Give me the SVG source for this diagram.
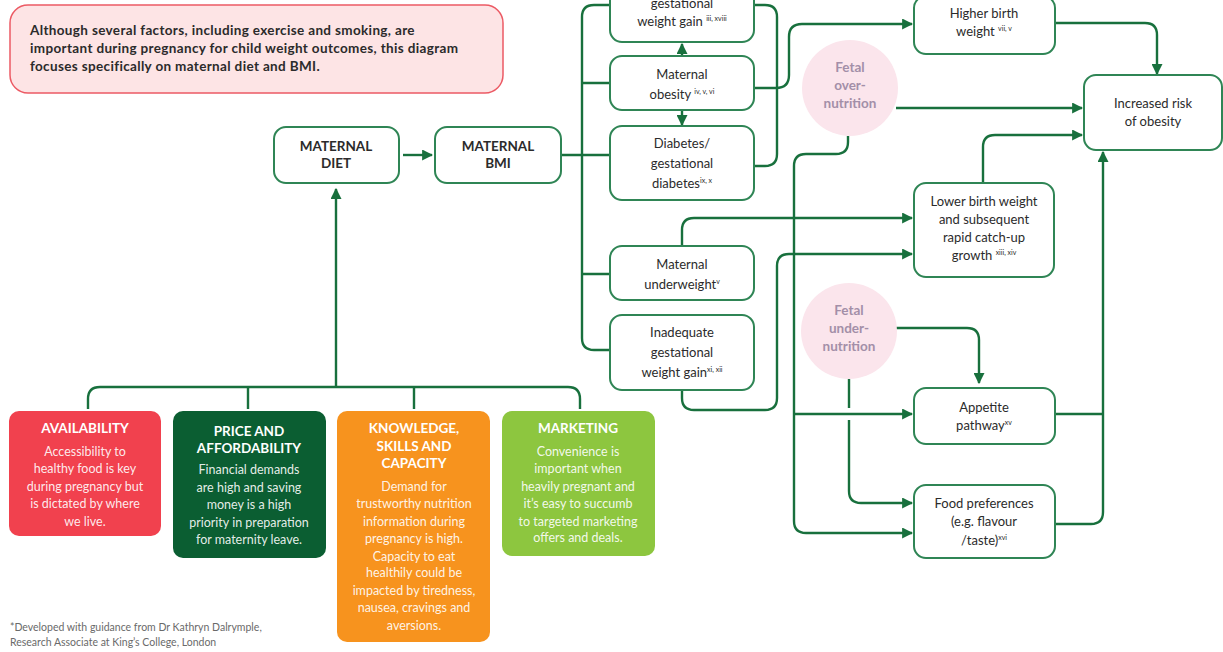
<svg xmlns="http://www.w3.org/2000/svg" width="1223" height="652" viewBox="0 0 1223 652">
<style>
.box{fill:#fff;stroke:#2f8555;stroke-width:2}
.c{fill:none;stroke:#18703d;stroke-width:2.4}
.t{font-family:Lato,"Liberation Sans",sans-serif;font-size:13px;fill:#2b2b2b;text-anchor:middle}
.h{font-family:Lato,"Liberation Sans",sans-serif;font-size:13.5px;font-weight:bold;fill:#2b2b2b;text-anchor:middle}
.s{font-size:7px}
.circ{fill:#fbe5ec}
.ct{font-family:Lato,"Liberation Sans",sans-serif;font-size:13.5px;font-weight:bold;fill:#a38fa8;text-anchor:middle}
.bt{font-family:Lato,"Liberation Sans",sans-serif;font-size:13.5px;font-weight:bold;fill:#fff;text-anchor:middle}
.bb{font-family:Lato,"Liberation Sans",sans-serif;font-size:12.5px;fill:#fff;fill-opacity:0.9;text-anchor:middle}
</style>
<defs>
<marker id="ah" viewBox="0 0 10 10" refX="9" refY="5" markerWidth="11" markerHeight="11" orient="auto" markerUnits="userSpaceOnUse"><path d="M0,0 L10,5 L0,10 z" fill="#18703d"/></marker>
</defs>
<rect width="1223" height="652" fill="#fff"/>

<g id="note">
<rect x="10" y="5" width="493" height="88" rx="18" fill="#fde4e5" stroke="#ec5a64" stroke-width="1.5"/>
<text font-family="Lato,'Liberation Sans',sans-serif" font-size="13.5" font-weight="bold" fill="#2b2b2b" letter-spacing="0.35">
<tspan x="30" y="35">Although several factors, including exercise and smoking, are</tspan>
<tspan x="30" y="53">important during pregnancy for child weight outcomes, this diagram</tspan>
<tspan x="30" y="71">focuses specifically on maternal diet and BMI.</tspan>
</text>
</g>

<g id="connectors">
<path class="c" d="M403,155 H432" marker-end="url(#ah)"/>
<path class="c" d="M561,155 H609"/>
<path class="c" d="M609,5 H594 Q582,5 582,17 V338 Q582,350 594,350 H609"/>
<path class="c" d="M582,83 H609 M582,274 H609"/>
<path class="c" d="M682,56 V44" marker-end="url(#ah)"/>
<path class="c" d="M682,110 V125" marker-end="url(#ah)"/>
<path class="c" d="M754,5 H765 Q777,5 777,17 V154 Q777,166 765,166 H754"/>
<path class="c" d="M754,88 H776 Q789,88 789,75 V37 Q789,24 802,24 H912" marker-end="url(#ah)"/>
<path class="c" d="M682,246 V230 Q682,218 694,218 H912" marker-end="url(#ah)"/>
<path class="c" d="M682,390 V398 Q682,410 694,410 H765 Q777,410 777,398 V266 Q777,254 789,254 H912" marker-end="url(#ah)"/>
<path class="c" d="M896,108 H1082" marker-end="url(#ah)"/>
<path class="c" d="M848,136 V142 Q848,154 836,154 H806 Q794,154 794,166 V521 Q794,533 806,533 H912" marker-end="url(#ah)"/>
<path class="c" d="M794,414 H912" marker-end="url(#ah)"/>
<path class="c" d="M896,328 H967 Q979,328 979,340 V383" marker-end="url(#ah)"/>
<path class="c" d="M849,379 V408"/>
<path class="c" d="M849,420 V491 Q849,503 861,503 H912" marker-end="url(#ah)"/>
<path class="c" d="M1055,23 H1145 Q1157,23 1157,35 V74" marker-end="url(#ah)"/>
<path class="c" d="M983,183 V147 Q983,135 995,135 H1082" marker-end="url(#ah)"/>
<path class="c" d="M1055,414 H1103"/>
<path class="c" d="M1055,524 H1091 Q1103,524 1103,512 V152" marker-end="url(#ah)"/>
<path class="c" d="M88,409 V399 Q88,387 100,387 H568 Q580,387 580,399 V409"/>
<path class="c" d="M248,387 V409 M414,387 V409"/>
<path class="c" d="M336,387 V189" marker-end="url(#ah)"/>
</g>

<g id="maternal-diet">
<rect class="box" x="274" y="127" width="125" height="56" rx="12"/>
<text class="h" x="336" y="151">MATERNAL</text>
<text class="h" x="336" y="168">DIET</text>
</g>
<g id="maternal-bmi">
<rect class="box" x="435" y="127" width="126" height="56" rx="12"/>
<text class="h" x="498" y="151">MATERNAL</text>
<text class="h" x="498" y="168">BMI</text>
</g>

<g id="excessive-gwg">
<rect class="box" x="610" y="-30" width="144" height="72" rx="12"/>
<text class="t" x="682" y="8">gestational</text>
<text class="t" x="682" y="26">weight gain <tspan class="s" dy="-5">iii, xviii</tspan></text>
</g>
<g id="maternal-obesity">
<rect class="box" x="610" y="56" width="144" height="54" rx="12"/>
<text class="t" x="682" y="79">Maternal</text>
<text class="t" x="682" y="99">obesity <tspan class="s" dy="-5">iv, v, vi</tspan></text>
</g>
<g id="diabetes">
<rect class="box" x="610" y="126" width="144" height="74" rx="12"/>
<text class="t" x="682" y="148">Diabetes/</text>
<text class="t" x="682" y="168">gestational</text>
<text class="t" x="682" y="188">diabetes<tspan class="s" dy="-5">ix, x</tspan></text>
</g>
<g id="maternal-underweight">
<rect class="box" x="610" y="246" width="144" height="54" rx="12"/>
<text class="t" x="682" y="269">Maternal</text>
<text class="t" x="682" y="289">underweight<tspan class="s" dy="-5">v</tspan></text>
</g>
<g id="inadequate-gwg">
<rect class="box" x="610" y="315" width="144" height="75" rx="12"/>
<text class="t" x="682" y="337">Inadequate</text>
<text class="t" x="682" y="357">gestational</text>
<text class="t" x="682" y="377">weight gain<tspan class="s" dy="-5">xi, xii</tspan></text>
</g>

<g id="fetal-over">
<circle class="circ" cx="850" cy="88" r="48"/>
<text class="ct" x="850" y="72">Fetal</text>
<text class="ct" x="850" y="90">over-</text>
<text class="ct" x="850" y="108">nutrition</text>
</g>
<g id="fetal-under">
<circle class="circ" cx="849" cy="331" r="48"/>
<text class="ct" x="849" y="315">Fetal</text>
<text class="ct" x="849" y="333">under-</text>
<text class="ct" x="849" y="351">nutrition</text>
</g>

<g id="higher-birth-weight">
<rect class="box" x="914" y="-4" width="141" height="58" rx="12"/>
<text class="t" x="984" y="18">Higher birth</text>
<text class="t" x="984" y="36">weight <tspan class="s" dy="-5">vii, v</tspan></text>
</g>
<g id="increased-risk">
<rect class="box" x="1084" y="75" width="138" height="75" rx="12"/>
<text class="t" x="1153" y="108">Increased risk</text>
<text class="t" x="1153" y="126">of obesity</text>
</g>
<g id="lower-birth-weight">
<rect class="box" x="914" y="183" width="140" height="94" rx="12"/>
<text class="t" x="984" y="206">Lower birth weight</text>
<text class="t" x="984" y="224">and subsequent</text>
<text class="t" x="984" y="242">rapid catch-up</text>
<text class="t" x="984" y="260">growth <tspan class="s" dy="-5">xiii, xiv</tspan></text>
</g>
<g id="appetite">
<rect class="box" x="914" y="388" width="141" height="56" rx="12"/>
<text class="t" x="984" y="412">Appetite</text>
<text class="t" x="984" y="430">pathway<tspan class="s" dy="-5">xv</tspan></text>
</g>
<g id="food-preferences">
<rect class="box" x="914" y="485" width="141" height="73" rx="12"/>
<text class="t" x="984" y="508">Food preferences</text>
<text class="t" x="984" y="526">(e.g. flavour</text>
<text class="t" x="984" y="545">/taste)<tspan class="s" dy="-5">xvi</tspan></text>
</g>

<g id="availability">
<rect x="9" y="411" width="152" height="125" rx="10" fill="#f1414e"/>
<text class="bt" x="85" y="433">AVAILABILITY</text>
<text class="bb" x="85" y="456">Accessibility to</text>
<text class="bb" x="85" y="473">healthy food is key</text>
<text class="bb" x="85" y="491">during pregnancy but</text>
<text class="bb" x="85" y="508">is dictated by where</text>
<text class="bb" x="85" y="526">we live.</text>
</g>
<g id="price">
<rect x="173" y="411" width="153" height="147" rx="10" fill="#0b5e32"/>
<text class="bt" x="249" y="436">PRICE AND</text>
<text class="bt" x="249" y="453">AFFORDABILITY</text>
<text class="bb" x="249" y="474">Financial demands</text>
<text class="bb" x="249" y="492">are high and saving</text>
<text class="bb" x="249" y="509">money is a high</text>
<text class="bb" x="249" y="527">priority in preparation</text>
<text class="bb" x="249" y="544">for maternity leave.</text>
</g>
<g id="knowledge">
<rect x="337" y="411" width="153" height="231" rx="10" fill="#f7931e"/>
<text class="bt" x="414" y="433">KNOWLEDGE,</text>
<text class="bt" x="414" y="451">SKILLS AND</text>
<text class="bt" x="414" y="468">CAPACITY</text>
<text class="bb" x="414" y="491">Demand for</text>
<text class="bb" x="414" y="508">trustworthy nutrition</text>
<text class="bb" x="414" y="526">information during</text>
<text class="bb" x="414" y="543">pregnancy is high.</text>
<text class="bb" x="414" y="561">Capacity to eat</text>
<text class="bb" x="414" y="577">healthily could be</text>
<text class="bb" x="414" y="595">impacted by tiredness,</text>
<text class="bb" x="414" y="612">nausea, cravings and</text>
<text class="bb" x="414" y="630">aversions.</text>
</g>
<g id="marketing">
<rect x="502" y="411" width="153" height="145" rx="10" fill="#8dc63f"/>
<text class="bt" x="578" y="433">MARKETING</text>
<text class="bb" x="578" y="456">Convenience is</text>
<text class="bb" x="578" y="473">important when</text>
<text class="bb" x="578" y="491">heavily pregnant and</text>
<text class="bb" x="578" y="508">it’s easy to succumb</text>
<text class="bb" x="578" y="526">to targeted marketing</text>
<text class="bb" x="578" y="542">offers and deals.</text>
</g>

<g id="footnote">
<text font-family="Lato,'Liberation Sans',sans-serif" font-size="10.5" fill="#6a6a6a">
<tspan x="10" y="631">*Developed with guidance from Dr Kathryn Dalrymple,</tspan>
<tspan x="10" y="646">Research Associate at King’s College, London</tspan>
</text>
</g>
</svg>
